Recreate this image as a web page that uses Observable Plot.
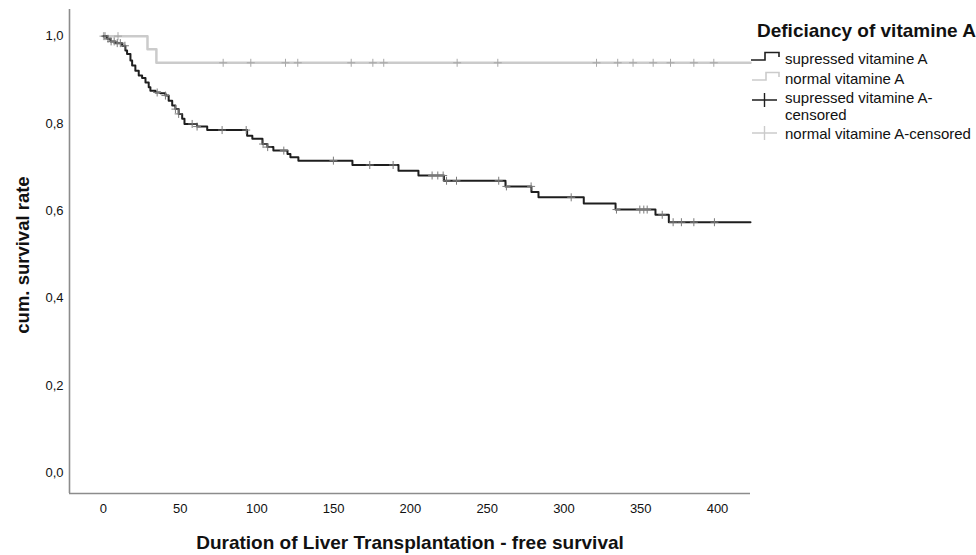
<!DOCTYPE html>
<html><head><meta charset="utf-8">
<script src="https://cdn.jsdelivr.net/npm/d3@7"></script>
<script src="https://cdn.jsdelivr.net/npm/@observablehq/plot@0.6"></script>
<style>
html,body{margin:0;padding:0;background:#fff;overflow:hidden;}
#wrap{position:relative;width:976px;height:555px;overflow:hidden;font-family:"Liberation Sans",Arial,sans-serif;}
#overlay{position:absolute;left:0;top:0;pointer-events:none;}
</style></head><body><div id="wrap"></div>
<script>
// ---- data ----
const legendTitle = "Deficiancy of vitamine A";
const legendLabels = ["supressed vitamine A", "normal vitamine A", ["supressed vitamine A-", "censored"], "normal vitamine A-censored"];
const xTitle = "Duration of Liver Transplantation - free survival";
const yTitle = "cum. survival rate";

// suppressed vitamin A: step times and survival after each step
const suppressedTimes = [0, 2.4, 4.6, 7.8, 12.2, 14.3, 15.4, 17.6, 18.7, 20.8, 23, 25.2, 27.4, 29.5, 30.6, 33.9, 37.1, 40.4, 42.5, 44.8, 46.9, 49, 51.3, 52.8, 61, 67.6, 93.6, 97, 103.6, 106.8, 110.7, 119.9, 121.8, 127, 162.2, 192.2, 205.2, 221.8, 261.9, 278.8, 283.4, 312.9, 333.6, 359.6, 368.3, 421.5];
const suppressedSurv  = [1.0, 0.994, 0.988, 0.984, 0.978, 0.967, 0.959, 0.944, 0.933, 0.921, 0.910, 0.904, 0.894, 0.883, 0.875, 0.871, 0.869, 0.864, 0.852, 0.841, 0.833, 0.822, 0.811, 0.799, 0.793, 0.785, 0.772, 0.765, 0.753, 0.746, 0.738, 0.730, 0.723, 0.715, 0.705, 0.692, 0.681, 0.669, 0.656, 0.643, 0.631, 0.617, 0.603, 0.591, 0.574, 0.574];
const suppressedCensored = [1, 3, 5, 7, 9, 11, 14, 35, 40.4, 46.9, 49, 57.8, 61, 77.3, 93, 104, 107, 117.5, 149.8, 173.5, 188.7, 214.1, 217.8, 221.3, 223.5, 230, 257.5, 262.5, 278.6, 304.7, 334.2, 349.4, 352, 354.2, 364, 371.1, 376.5, 384.6, 398];

// normal vitamin A
const normalTimes = [0, 28.7, 34.5, 421.5];
const normalSurv  = [1.0, 0.970, 0.939, 0.939];
const normalCensored = [0, 9.5, 78, 96, 118.6, 126.6, 161.4, 175.5, 182.6, 230.4, 256.9, 321.2, 335, 345, 358.1, 369.4, 384.6, 397.6];

const xTicks = [0, 50, 100, 150, 200, 250, 300, 350, 400];
const yTicks = [0, 0.2, 0.4, 0.6, 0.8, 1.0];
const xDomain = [-22.1, 421.5];
const yDomain = [-0.047, 1.061];

// ---- build tables ----
const curve = (times, surv) => times.map((t, i) => ({t, s: surv[i]}));
const survAt = (times, surv, t) => { let s = surv[0]; for (let i = 0; i < times.length; i++) if (times[i] <= t) s = surv[i]; return s; };
const supLine = curve(suppressedTimes, suppressedSurv);
const norLine = curve(normalTimes, normalSurv);
const supCens = suppressedCensored.map(t => ({t, s: survAt(suppressedTimes, suppressedSurv, t)}));
const norCens = normalCensored.map(t => ({t, s: survAt(normalTimes, normalSurv, t)}));

const plus = { draw(ctx, size) { const r = Math.sqrt(size / Math.PI); ctx.moveTo(-r, 0); ctx.lineTo(r, 0); ctx.moveTo(0, -r); ctx.lineTo(0, r); } };
const fmt = d => d.toFixed(1).replace(".", ",");

const BLACK = "#1e1e1e", GREY = "#cbcbcb", AXIS = "#8c8c8c";

const chart = Plot.plot({
  width: 976, height: 555,
  marginLeft: 69, marginRight: 226, marginTop: 9, marginBottom: 62,
  x: {domain: xDomain},
  y: {domain: yDomain},
  style: {fontFamily: "'Liberation Sans', Arial, sans-serif", background: "white", color: "#111"},
  marks: [
    Plot.ruleX([xDomain[0]], {stroke: AXIS, strokeWidth: 1.6}),
    Plot.ruleY([yDomain[0]], {stroke: AXIS, strokeWidth: 1.6}),
    Plot.axisX({ticks: xTicks, tickSize: 0, tickPadding: 10, fontSize: 13, tickFormat: d => String(d), label: null}),
    Plot.axisY({ticks: yTicks, tickSize: 0, tickPadding: 6, fontSize: 13, tickFormat: fmt, label: null}),
    Plot.line(norLine, {x: "t", y: "s", curve: "step-after", stroke: GREY, strokeWidth: 2.5}),
    Plot.dot(norCens, {x: "t", y: "s", symbol: plus, r: 4, stroke: "#a8a8a8", fill: "none", strokeWidth: 1}),
    Plot.line(supLine, {x: "t", y: "s", curve: "step-after", stroke: BLACK, strokeWidth: 2}),
    Plot.dot(supCens, {x: "t", y: "s", symbol: plus, r: 4, stroke: "#7a7a7a", fill: "none", strokeWidth: 1})
  ]
});
const wrap = document.getElementById("wrap");
wrap.appendChild(chart);

// ---- titles & legend overlay ----
const ns = "http://www.w3.org/2000/svg";
const ov = document.createElementNS(ns, "svg");
ov.setAttribute("id", "overlay");
ov.setAttribute("width", 976); ov.setAttribute("height", 555);
ov.setAttribute("font-family", "'Liberation Sans', Arial, sans-serif");
function txt(s, attrs, lineGap) {
  const e = document.createElementNS(ns, "text");
  for (const k in attrs) e.setAttribute(k, attrs[k]);
  if (Array.isArray(s)) {
    s.forEach((line, i) => { const t = document.createElementNS(ns, "tspan"); t.setAttribute("x", attrs.x); if (i) t.setAttribute("dy", lineGap); t.textContent = line; e.appendChild(t); });
  } else e.textContent = s;
  ov.appendChild(e); return e;
}
function path(d, stroke, w) { const e = document.createElementNS(ns, "path"); e.setAttribute("d", d); e.setAttribute("stroke", stroke); e.setAttribute("stroke-width", w); e.setAttribute("fill", "none"); ov.appendChild(e); }
txt(yTitle, {transform: "translate(22,255) rotate(-90)", "text-anchor": "middle", "dominant-baseline": "central", "font-size": 18.5, "font-weight": "bold", fill: "#111"});
txt(xTitle, {x: 410, y: 542, "text-anchor": "middle", "dominant-baseline": "central", "font-size": 19, "font-weight": "bold", fill: "#111"});
txt(legendTitle, {x: 757, y: 30, "dominant-baseline": "central", "font-size": 19, "font-weight": "bold", fill: "#111"});
const rowY = [58, 78.5, 96.5, 133];
legendLabels.forEach((lab, i) => txt(lab, {x: 785, y: rowY[i], "dominant-baseline": "central", "font-size": 15, fill: "#111"}, 17.5));
path("M751,60 H765 V52.5 H779 V57", BLACK, 1.6);
path("M752,80 H766 V72.5 H779 V77", GREY, 1.6);
path("M752,100 H777 M764.5,93 V107", BLACK, 1.4);
path("M752,133 H777 M764.5,126 V140", GREY, 1.4);
wrap.appendChild(ov);
</script></body></html>
